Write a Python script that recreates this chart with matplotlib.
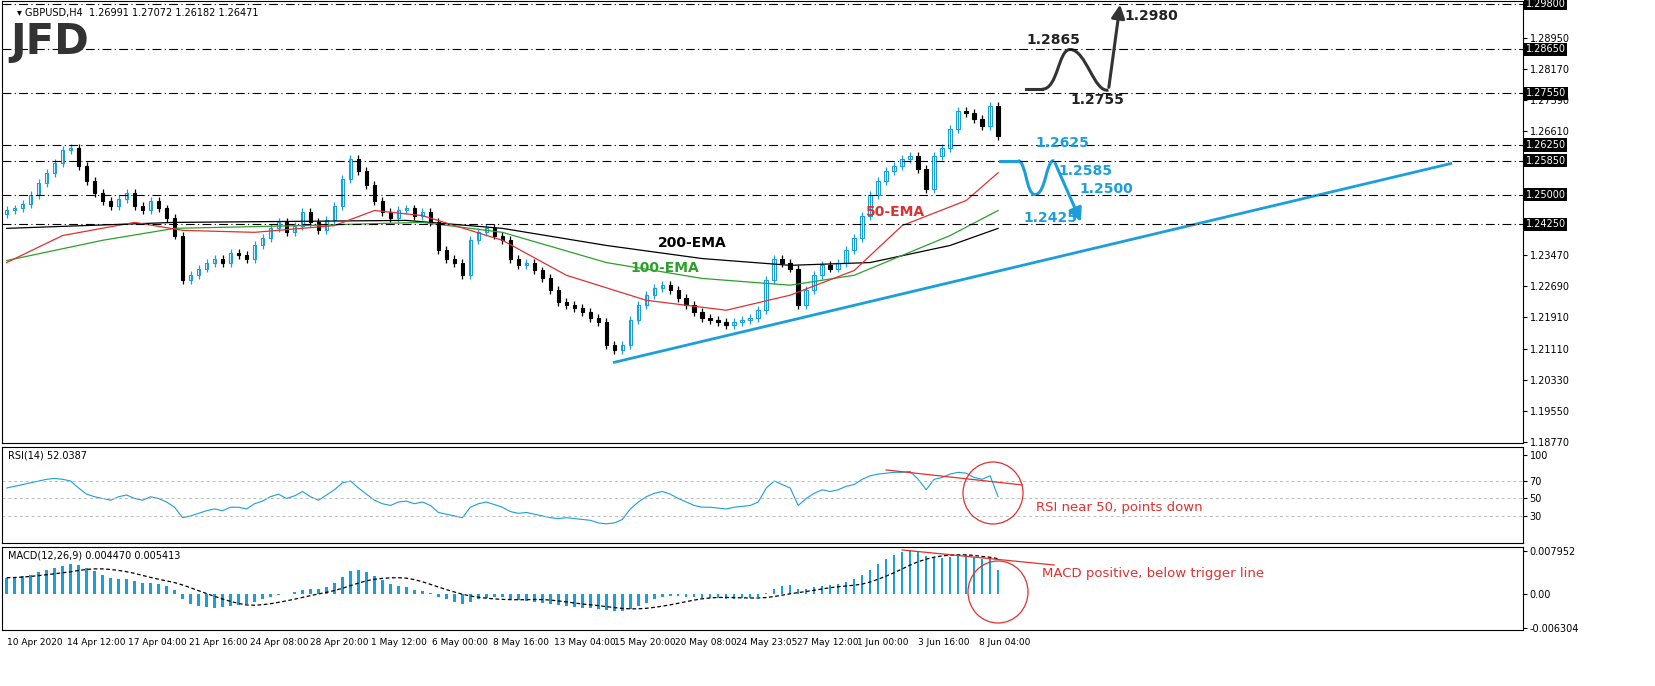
import numpy as np
import pandas as pd
import matplotlib
matplotlib.use("Agg")
import matplotlib.pyplot as plt
from matplotlib.patches import Ellipse, PathPatch
from matplotlib.path import Path

BLUE = "#1a9fdb"

closes = [1.2460, 1.2465, 1.2477, 1.2498, 1.2528, 1.2555, 1.2580, 1.2611, 1.2616, 1.2573, 1.2535,
          1.2505, 1.2485, 1.2472, 1.2490, 1.2505, 1.2472, 1.2460, 1.2485, 1.2465, 1.2440, 1.2397,
          1.2284, 1.2297, 1.2314, 1.2329, 1.2339, 1.2329, 1.2354, 1.2347, 1.2339, 1.2372, 1.2390,
          1.2415, 1.2430, 1.2405, 1.2422, 1.2455, 1.2430, 1.2410, 1.2435, 1.2472, 1.2540, 1.2590,
          1.2560, 1.2523, 1.2485, 1.2455, 1.2440, 1.2460, 1.2465, 1.2447, 1.2455, 1.2430, 1.2360,
          1.2339, 1.2329, 1.2297, 1.2385, 1.2405, 1.2415, 1.2397, 1.2385, 1.2339, 1.2322, 1.2329,
          1.2309, 1.2289, 1.2259, 1.2229, 1.2221, 1.2214, 1.2204, 1.2189, 1.2179, 1.2121, 1.2109,
          1.2121, 1.2184, 1.2221, 1.2247, 1.2264, 1.2272, 1.2259, 1.2239, 1.2221, 1.2204, 1.2189,
          1.2184, 1.2179, 1.2171, 1.2179, 1.2184, 1.2189, 1.2209, 1.2284, 1.2339, 1.2329, 1.2314,
          1.2221, 1.2259, 1.2297, 1.2322, 1.2314, 1.2329, 1.2360, 1.2390, 1.2447, 1.2498, 1.2535,
          1.2560, 1.2573, 1.2590, 1.2598, 1.2565, 1.2515, 1.2598, 1.2616, 1.2666, 1.2711, 1.2706,
          1.2691, 1.2673, 1.2723, 1.2647]
first_open = 1.2450
wick = 0.0010

ema200_x = [0, 21, 50, 62, 75, 87, 98, 108, 118, 124]
ema200 = [1.2415, 1.2430, 1.2435, 1.2415, 1.2372, 1.2339, 1.2322, 1.2329, 1.2372, 1.2415]
ema100_x = [0, 12, 21, 37, 52, 62, 75, 87, 98, 106, 118, 124]
ema100 = [1.2334, 1.2385, 1.2415, 1.2422, 1.2430, 1.2405, 1.2329, 1.2289, 1.2272, 1.2297, 1.2397, 1.2460]
ema50_x = [0, 7, 16, 22, 31, 41, 46, 52, 62, 70, 80, 90, 98, 106, 112, 120, 124]
ema50 = [1.2329, 1.2397, 1.2430, 1.2410, 1.2405, 1.2422, 1.2460, 1.2447, 1.2385, 1.2297, 1.2234,
         1.2209, 1.2247, 1.2309, 1.2422, 1.2485, 1.2555]
trend_x = [76, 180.6]
trend_y = [1.2078, 1.2578]

levels = [1.2980, 1.2865, 1.2755, 1.2625, 1.2585, 1.2500, 1.2425]
price_ticks = [1.28950, 1.28170, 1.27390, 1.26610, 1.23470, 1.22690, 1.21910,
               1.21110, 1.20330, 1.19550, 1.18770]

rsi = [62, 64, 66, 68, 70, 72, 73, 72, 70, 62, 55,
       52, 50, 48, 52, 54, 50, 48, 52, 50, 46, 40,
       28, 30, 33, 36, 38, 36, 40, 40, 38, 44, 47,
       52, 55, 50, 53, 58, 52, 48, 54, 60, 68, 70,
       62, 55, 48, 44, 42, 46, 47, 44, 46, 42, 34,
       32, 30, 28, 40, 44, 46, 43, 40, 35, 33, 34,
       32, 30, 28, 27, 28, 27, 26, 25, 22, 21, 22,
       26, 38, 46, 52, 56, 58, 55, 50, 46, 42, 40,
       40, 39, 38, 40, 41, 42, 46, 62, 70, 66, 62,
       42, 50, 56, 60, 58, 60, 64, 66, 72, 76, 78,
       79, 80, 80, 81, 72, 60, 72, 74, 78, 80, 79,
       74, 72, 76, 52]

macd = [.0030, .0031, .0033, .0036, .0040, .0044, .0048, .0052, .0055, .0053, .0048,
        .0042, .0036, .0030, .0028, .0027, .0024, .0021, .0020, .0018, .0014, .0008,
        -.0010, -.0018, -.0022, -.0024, -.0025, -.0024, -.0022, -.0020, -.0018, -.0014, -.0010,
        -.0005, -.0001, .0000, .0003, .0008, .0010, .0010, .0013, .0020, .0032, .0042,
        .0044, .0040, .0033, .0026, .0019, .0015, .0012, .0008, .0006, .0002, -.0005,
        -.0010, -.0014, -.0018, -.0014, -.0010, -.0007, -.0006, -.0006, -.0009, -.0012, -.0013,
        -.0014, -.0016, -.0018, -.0021, -.0023, -.0024, -.0025, -.0026, -.0027, -.0030, -.0032,
        -.0032, -.0028, -.0022, -.0016, -.0010, -.0006, -.0004, -.0004, -.0005, -.0006, -.0007,
        -.0008, -.0008, -.0009, -.0009, -.0008, -.0007, -.0005, .0002, .0010, .0014, .0016,
        .0010, .0010, .0012, .0015, .0016, .0018, .0022, .0027, .0035, .0045, .0056,
        .0064, .0072, .0078, .0082, .0078, .0070, .0068, .0066, .0068, .0070, .0072,
        .0068, .0064, .0066, .0045]

date_labels = ["10 Apr 2020", "14 Apr 12:00", "17 Apr 04:00", "21 Apr 16:00", "24 Apr 08:00",
               "28 Apr 20:00", "1 May 12:00", "6 May 00:00", "8 May 16:00", "13 May 04:00",
               "15 May 20:00", "20 May 08:00", "24 May 23:05", "27 May 12:00", "1 Jun 00:00",
               "3 Jun 16:00", "8 Jun 04:00"]

W, H = 1655, 686
fig = plt.figure(figsize=(W / 100, H / 100), dpi=100)
XL = (-0.625, 189.6)


def box(top, bottom):
    return [0.001, (H - bottom) / H, 1521 / W, (bottom - top) / H]


ax = fig.add_axes(box(1, 443))
ar = fig.add_axes(box(447, 543), sharex=ax)
am = fig.add_axes(box(547, 630), sharex=ax)

for a in (ax, ar, am):
    a.yaxis.tick_right()
    a.tick_params(axis="y", labelsize=7, length=3, pad=2)
    a.tick_params(axis="x", length=0)
    for s in a.spines.values():
        s.set_linewidth(0.8)
ax.tick_params(axis="x", labelbottom=False)
ar.tick_params(axis="x", labelbottom=False)

# candles
n = len(closes)
idx = np.arange(n)
opens = [first_open] + closes[:-1]
for i in idx:
    o, c = opens[i], closes[i]
    hi, lo = max(o, c) + wick, min(o, c) - wick
    col = BLUE if c >= o else "black"
    ax.vlines(i, lo, hi, color=col, lw=0.9)
    ax.bar(i, abs(c - o) if abs(c - o) > 0.00005 else 0.00005, bottom=min(o, c), width=0.45,
           color=col if c < o else "white", edgecolor=col, lw=0.8)

ax.plot(ema200_x, ema200, color="black", lw=0.9)
ax.plot(ema100_x, ema100, color="#2ca02c", lw=0.9)
ax.plot(ema50_x, ema50, color="#e03030", lw=0.9)
ax.plot(trend_x, trend_y, color=BLUE, lw=2)

for lv in levels:
    ax.axhline(lv, color="black", lw=0.8, ls=(0, (8, 3, 1, 3)))
    ax.text(1.002, lv, "%.5f" % lv, transform=ax.get_yaxis_transform(), fontsize=7, color="white",
            va="center", ha="left", bbox=dict(facecolor="black", edgecolor="none", pad=1.2))
ax.set_yticks(price_ticks)
ax.set_yticklabels(["%.5f" % p for p in price_ticks])
ax.set_ylim(1.1875, 1.2987)
ax.set_xlim(*XL)

# scenario paths
ax.plot([127.5, 129.5], [1.2765, 1.2765], color="#333333", lw=2.2)
ax.add_patch(PathPatch(Path([(129.5, 1.2765), (131.5, 1.2765), (131.5, 1.2865), (133, 1.2865)],
                            [1, 4, 4, 4]), fc="none", ec="#333333", lw=2.2))
ax.add_patch(PathPatch(Path([(133, 1.2865), (135, 1.2865), (136, 1.2755), (137.8, 1.2763)],
                            [1, 4, 4, 4]), fc="none", ec="#333333", lw=2.2))
ax.annotate("", xy=(139.3, 1.2985), xytext=(137.8, 1.2763),
            arrowprops=dict(arrowstyle="-|>,head_width=0.4,head_length=0.8", color="#333333", lw=2.2))
ax.plot([124.2, 126.5], [1.2585, 1.2585], color=BLUE, lw=2.2)
ax.add_patch(PathPatch(Path([(126.5, 1.2585), (127.5, 1.2585), (127.5, 1.2500), (128.6, 1.2500)],
                            [1, 4, 4, 4]), fc="none", ec=BLUE, lw=2.2))
ax.add_patch(PathPatch(Path([(128.6, 1.2500), (130, 1.2500), (130, 1.2590), (131, 1.2585)],
                            [1, 4, 4, 4]), fc="none", ec=BLUE, lw=2.2))
ax.annotate("", xy=(134.5, 1.2425), xytext=(131, 1.2585),
            arrowprops=dict(arrowstyle="-|>,head_width=0.4,head_length=0.8", color=BLUE, lw=2.2))

bold = dict(fontsize=10, fontweight="bold")
ax.text(127.5, 1.2880, "1.2865", color="#222222", **bold)
ax.text(139.8, 1.2940, "1.2980", color="#222222", **bold)
ax.text(133, 1.2727, "1.2755", color="#222222", **bold)
ax.text(128.7, 1.2620, "1.2625", color=BLUE, **bold)
ax.text(131.6, 1.2548, "1.2585", color=BLUE, **bold)
ax.text(134.2, 1.2505, "1.2500", color=BLUE, **bold)
ax.text(127.2, 1.2430, "1.2425", color=BLUE, **bold)
ax.text(81.5, 1.2367, "200-EMA", color="black", **bold)
ax.text(78, 1.2306, "100-EMA", color="#2ca02c", **bold)
ax.text(107.5, 1.2445, "50-EMA", color="#e03030", **bold)
ax.text(0.01, 0.985, "\u25be GBPUSD,H4  1.26991 1.27072 1.26182 1.26471", transform=ax.transAxes,
        fontsize=7, va="top")
ax.text(0.006, 0.955, "JFD", transform=ax.transAxes, fontsize=30, fontweight="bold",
        color="#333333", va="top")

# RSI
ar.plot(idx, rsi, color=BLUE, lw=0.8)
for lv in (70, 50, 30):
    ar.axhline(lv, color="#bbbbbb", lw=0.7, ls=(0, (3, 3)))
ar.set_ylim(-1, 109)
ar.set_yticks([100, 70, 50, 30])
ar.plot([110, 127], [82.7, 65.5], color="#e03030", lw=0.9)
ar.text(0.004, 0.96, "RSI(14) 52.0387", transform=ar.transAxes, fontsize=7, va="top")
ar.text(128.7, 36, "RSI near 50, points down", color="#e03030", fontsize=9.5)

# MACD
signal = pd.Series(macd).rolling(9, min_periods=1).mean()
am.bar(idx, macd, width=0.3, color=BLUE)
am.plot(idx, signal, color="black", lw=0.9, ls=(0, (3, 2)))
am.set_ylim(-0.00666, 0.00869)
am.set_yticks([0.007952, 0.0, -0.006304])
am.set_yticklabels(["0.007952", "0.00", "-0.006304"])
am.plot([112, 131], [0.00814, 0.00536], color="#e03030", lw=0.9)
am.text(0.004, 0.96, "MACD(12,26,9) 0.004470 0.005413", transform=am.transAxes, fontsize=7, va="top")
am.text(129.5, 0.0032, "MACD positive, below trigger line", color="#e03030", fontsize=9.5)
am.set_xticks(np.arange(len(date_labels)) * 7.6)
am.set_xticklabels(date_labels, fontsize=6.5, ha="left")
am.tick_params(axis="x", pad=6)

for cx, cy in ((993, 493), (998, 592)):
    fig.add_artist(Ellipse((cx, H - cy), 60, 62, transform=None, fill=False, ec="#e03030", lw=0.9))

fig.savefig("out.png", dpi=100)
